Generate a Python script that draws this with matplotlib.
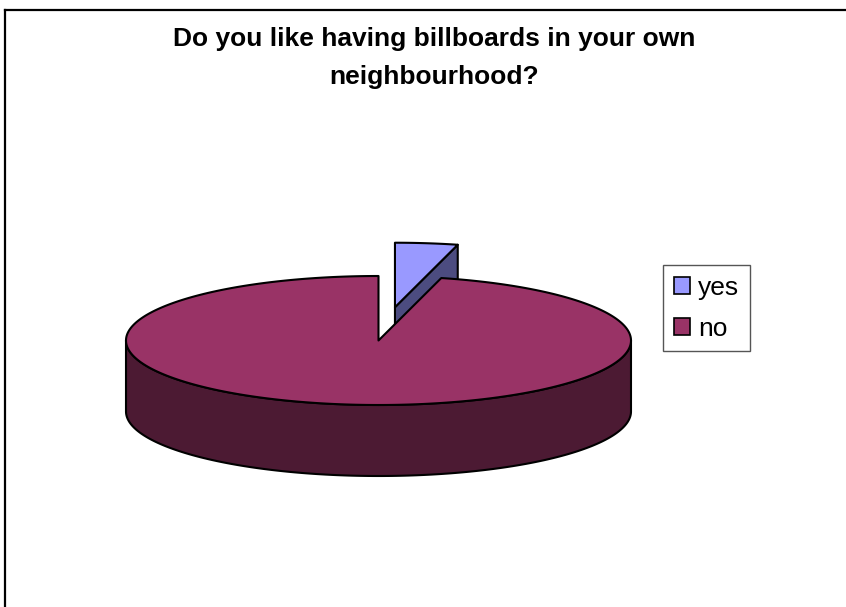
import numpy as np
import matplotlib
matplotlib.use("Agg")
import matplotlib.pyplot as plt
from matplotlib.patches import Polygon, Patch
from matplotlib.lines import Line2D

# Survey answers
categories = ["yes", "no"]
shares = [4, 96]
explode = [0.52, 0.0]

title = "Do you like having billboards in your own\nneighbourhood?"

top_colors = ["#9999FF", "#993366"]
side_colors = ["#4C4C80", "#4C1A33"]

W, H = 846, 607
fig = plt.figure(figsize=(W / 100, H / 100), dpi=100)
ax = fig.add_axes([0, 0, 1, 1])
ax.set_xlim(0, W)
ax.set_ylim(H, 0)
ax.axis("off")

# 3-D pie geometry (pixel space)
cx, cy = 378.5, 340.5
ra, rb = 252.5, 64.5
depth = 71.0
edge_kw = dict(edgecolor="black", linewidth=1.5, joinstyle="round")


def rim(t_deg, ox, oy, dz=0.0):
    t = np.radians(t_deg)
    return np.column_stack([ox + ra * np.cos(t), oy - rb * np.sin(t) + dz])


total = float(sum(shares))
angle = 90.0
slices = []
for name, v, ex, ct, cs in zip(categories, shares, explode, top_colors, side_colors):
    span = 360.0 * v / total
    s, e = angle, angle - span  # clockwise from 12 o'clock
    angle = e
    mid = np.radians((s + e) / 2)
    ox = cx + ex * ra * np.cos(mid)
    oy = cy - ex * rb * np.sin(mid)
    slices.append((s, e, ox, oy, ct, cs))

# small (back) slices first, the big slice over them
order = [i for i in range(len(slices)) if shares[i] < total / 2] + \
        [i for i in range(len(slices)) if shares[i] >= total / 2]

for i in order:
    s, e, ox, oy, ct, cs = slices[i]
    # outer wall: front half only (angles 180..360)
    lo, hi = e, s
    k0 = np.floor((lo - 180) / 360.0)
    for k in range(int(k0) - 1, int(k0) + 2):
        a0 = max(lo, 180 + 360 * k)
        a1 = min(hi, 360 + 360 * k)
        if a1 > a0:
            ts = np.linspace(a0, a1, 200)
            upper = rim(ts, ox, oy)
            lower = rim(ts[::-1], ox, oy, depth)
            ax.add_patch(Polygon(np.vstack([upper, lower]), closed=True,
                                 facecolor=cs, **edge_kw))
    # radial cut faces that face the viewer
    for a, sign in ((e, 1), (s, -1)):
        nx = sign * np.cos(np.radians(a))
        if nx > 1e-6:
            p = rim(np.array([a]), ox, oy)[0]
            face = [(ox, oy), tuple(p), (p[0], p[1] + depth), (ox, oy + depth)]
            ax.add_patch(Polygon(face, closed=True, facecolor=cs, **edge_kw))
    # top face
    ts = np.linspace(e, s, 600)
    pts = np.vstack([[ox, oy], rim(ts, ox, oy)])
    ax.add_patch(Polygon(pts, closed=True, facecolor=ct, **edge_kw))

# title
fig.text(434 / W, 1 - 58 / H, title, ha="center", va="center",
         fontsize=19, fontweight="bold", family="Liberation Sans",
         linespacing=1.75)

# legend
handles = [Patch(facecolor=c, edgecolor="black", linewidth=1.2) for c in top_colors]
leg = fig.legend(handles, categories, loc="upper left",
                 bbox_to_anchor=(663 / W, 1 - 265 / H),
                 prop={"family": "Liberation Sans", "size": 19},
                 frameon=True, fancybox=False, framealpha=1,
                 edgecolor="#555555", handlelength=0.62, handleheight=0.62,
                 handletextpad=0.3, borderpad=0.4, labelspacing=0.65,
                 borderaxespad=0)
leg.get_frame().set_linewidth(1.0)

# chart area border (top and left)
fig.add_artist(Line2D([5 / W, 1.0], [1 - 10 / H, 1 - 10 / H],
                      transform=fig.transFigure, color="black", linewidth=1.6))
fig.add_artist(Line2D([5 / W, 5 / W], [0, 1 - 10 / H],
                      transform=fig.transFigure, color="black", linewidth=1.6))

fig.savefig("out.png", dpi=100)
